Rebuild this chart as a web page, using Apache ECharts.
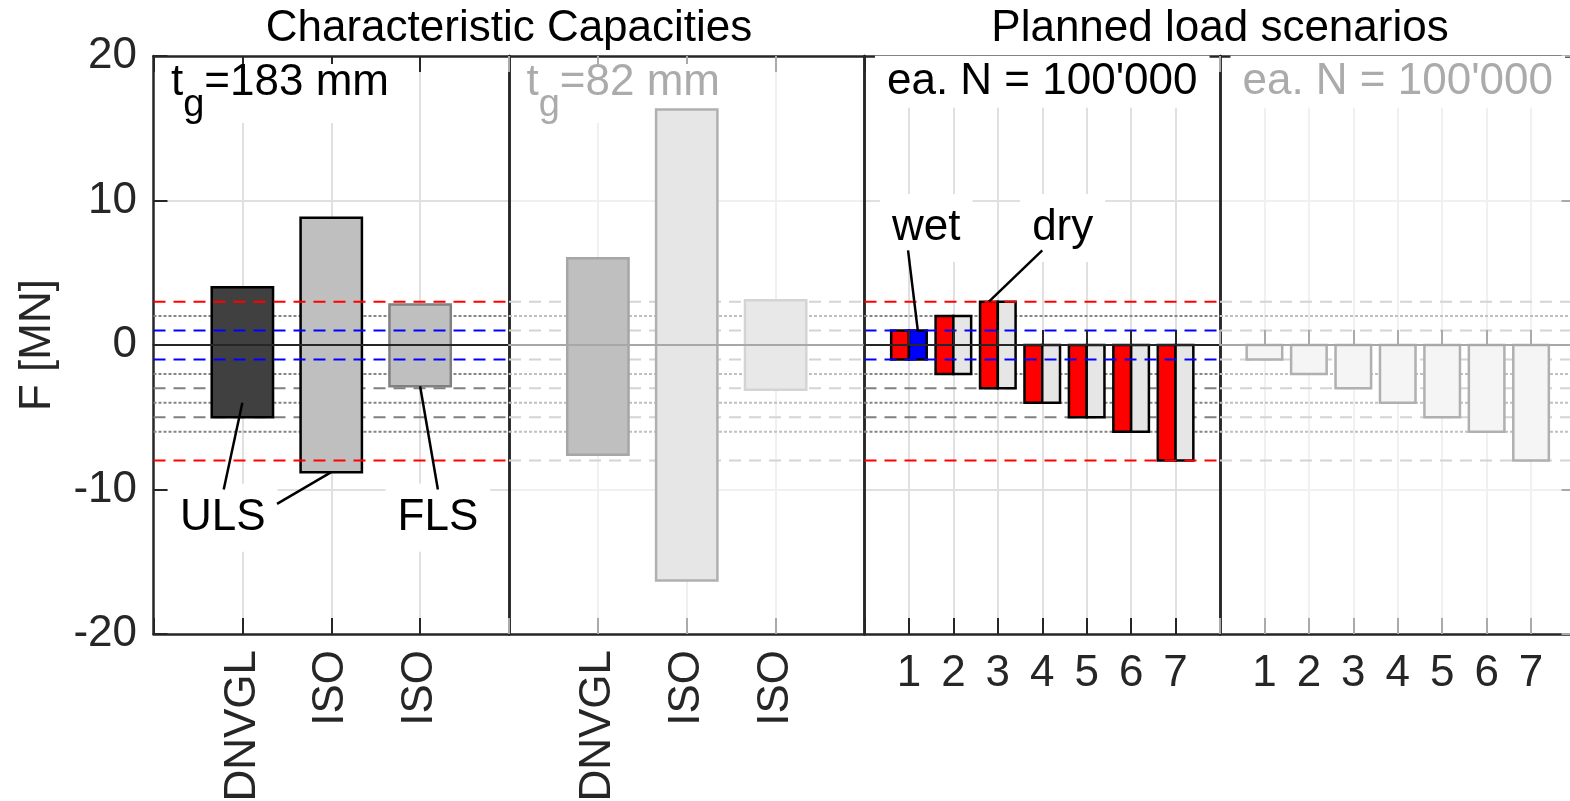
<!DOCTYPE html>
<html>
<head>
<meta charset="utf-8">
<title>Characteristic capacities and planned load scenarios</title>
<script src="https://cdn.jsdelivr.net/npm/echarts@6.0.0/dist/echarts.min.js"></script>
<style>
  html, body { margin: 0; padding: 0; background: #fff; }
  #chart { width: 1570px; height: 801px; }
</style>
</head>
<body>
<div id="chart"></div>
<script>
// ---- values ----
const capCategories = ['DNVGL', 'ISO', 'ISO'];
// t_g = 183 mm
const cap183Low  = [-5, -8.8, -2.85];
const cap183High = [4, 8.8, 2.8];
// t_g = 82 mm
const cap82Low  = [-7.6, -16.3, -3.1];
const cap82High = [6, 16.3, 3.1];

const scenarios = ['1', '2', '3', '4', '5', '6', '7'];
const wetLow  = [-1, -2, -3, -4, -5, -6, -8];
const wetHigh = [1, 2, 3, 0, 0, 0, 0];
const dryLow  = [-1, -2, -3, -4, -5, -6, -8];
const dryHigh = [1, 2, 3, 0, 0, 0, 0];
const load82Low  = [-1, -2, -3, -4, -5, -6, -8];
const load82High = [0, 0, 0, 0, 0, 0, 0];

const yMin = -20, yMax = 20, yStep = 10;

// horizontal reference levels [MN]
const limitLevels   = [3, -8];
const serviceLevels = [1, -1];
const dottedLevels  = [2, -2, -4, -6];
const dashedLevels  = [-3, -5];

// annotations (data coordinates)
const capNotes = ['ULS', 'FLS'];
const capNoteX = [0.78, 3.2];
const capNoteY = [-11.95, -11.95];
const capLeaders = [[1, -4, 0.79, -10], [2, -8.8, 1.39, -11], [3, -2.85, 3.2, -10]];
const loadNotes = ['wet', 'dry'];
const loadNoteX = [1.39, 4.46];
const loadNoteY = [8.1, 8.1];
const loadLeaders = [[1.2, 1, 0.98, 6.55], [2.8, 3, 4.0, 6.55]];

// ---- chart ----
const chart = echarts.init(document.getElementById('chart'));

const FONT = '"Liberation Sans", Arial, Helvetica, sans-serif';
const DARK = '#262626';
const FADE = '#ababab';
const panelLeft = [153.5, 509, 864.5, 1220];
const panelW = 355.5, panelTop = 56, panelH = 578;
const faded = [false, true, false, true];
const xMax = [4, 4, 8, 8];

const grid = panelLeft.map(l => ({
  left: l, top: panelTop, width: panelW, height: panelH,
  containLabel: false, outerBoundsMode: 'none'
}));

const xAxis = [], yAxis = [];
for (let i = 0; i < 4; i++) {
  const cats = i < 2 ? capCategories : scenarios;
  const tickColor = faded[i] ? '#aaaaaa' : DARK;
  const gridColor = faded[i] ? '#f0f0f0' : '#e0e0e0';
  const base = { type: 'value', gridIndex: i, min: 0, max: xMax[i], interval: 1 };

  // bottom border + labels
  xAxis.push(Object.assign({}, base, {
    position: 'bottom',
    axisLine: { show: true, onZero: false, lineStyle: { color: DARK, width: 2.5 } },
    axisTick: { show: true, inside: true, length: 16, lineStyle: { color: tickColor, width: 2 } },
    axisLabel: {
      show: true, margin: i < 2 ? 16 : 18, rotate: i < 2 ? 90 : 0,
      fontSize: 44, fontFamily: FONT, color: DARK,
      formatter: v => cats[v - 1] || ''
    },
    splitLine: { show: true, showMinLine: false, showMaxLine: false, lineStyle: { color: gridColor, width: 2 } }
  }));
  // top border
  xAxis.push(Object.assign({}, base, {
    position: 'top',
    axisLine: { show: true, onZero: false, lineStyle: { color: DARK, width: 2.5 } },
    axisTick: { show: true, inside: true, length: 16, lineStyle: { color: tickColor, width: 2 } },
    axisLabel: { show: false },
    splitLine: { show: false }
  }));
  // zero line
  xAxis.push(Object.assign({}, base, {
    position: 'bottom', z: 4,
    axisLine: { show: true, onZero: true, lineStyle: { color: faded[i] ? '#a8a8a8' : DARK, width: 2 } },
    axisTick: { show: i >= 2, inside: true, length: 15, lineStyle: { color: tickColor, width: 2 } },
    axisLabel: { show: false },
    splitLine: { show: false }
  }));

  yAxis.push({
    type: 'value', gridIndex: i, min: yMin, max: yMax, interval: yStep, position: 'left',
    axisLine: { show: true, onZero: false, lineStyle: { color: DARK, width: 2.5 } },
    axisTick: { show: i === 0, inside: true, length: 14, lineStyle: { color: DARK, width: 2 } },
    axisLabel: { show: i === 0, margin: 16.5, fontSize: 44, fontFamily: FONT, color: DARK },
    splitLine: { show: true, showMinLine: false, showMaxLine: false, lineStyle: { color: gridColor, width: 2 } },
    name: i === 0 ? 'F [MN]' : '',
    nameLocation: 'middle', nameGap: 94,
    nameTextStyle: { fontSize: 44, fontFamily: FONT, color: DARK }
  });
  yAxis.push({
    type: 'value', gridIndex: i, min: yMin, max: yMax, interval: yStep, position: 'right',
    axisLine: { show: true, onZero: false, lineStyle: { color: DARK, width: 2.5 } },
    axisTick: { show: i === 3, inside: true, length: 14, lineStyle: { color: '#aaaaaa', width: 2 } },
    axisLabel: { show: false },
    splitLine: { show: false }
  });
}

// floating bars from low to high, centred on category + offset
function rangeBars(gi, low, high, offset, width, fill, stroke, z) {
  return {
    type: 'custom', xAxisIndex: gi * 3, yAxisIndex: gi * 2, z: z, silent: true,
    data: low.map((lo, k) => [k + 1, lo, high[k]]),
    renderItem(params, api) {
      const x = api.value(0);
      const a = api.coord([x + offset - width / 2, api.value(2)]);
      const b = api.coord([x + offset + width / 2, api.value(1)]);
      return {
        type: 'rect',
        shape: { x: a[0], y: a[1], width: b[0] - a[0], height: b[1] - a[1] },
        style: { fill: fill(params.dataIndex), stroke: stroke(params.dataIndex), lineWidth: 2.5 }
      };
    }
  };
}

function levelLines(gi, levels, color, dash, z) {
  return {
    type: 'custom', xAxisIndex: gi * 3, yAxisIndex: gi * 2, z: z, silent: true,
    data: levels.map(v => [0, v]),
    renderItem(params, api) {
      const y = api.coord([0, api.value(1)])[1];
      const cs = params.coordSys;
      return {
        type: 'line',
        shape: { x1: cs.x, y1: y, x2: cs.x + cs.width, y2: y },
        style: { stroke: color, lineWidth: 2, lineDash: dash, fill: null }
      };
    }
  };
}

function notes(gi, names, xs, ys) {
  return {
    type: 'custom', xAxisIndex: gi * 3, yAxisIndex: gi * 2, z: 1.5, silent: true,
    data: xs.map((x, k) => [x, ys[k]]),
    renderItem(params, api) {
      const p = api.coord([api.value(0), api.value(1)]);
      return {
        type: 'text', x: p[0], y: p[1],
        style: {
          text: names[params.dataIndex], fontSize: 44, fontFamily: FONT, fill: '#000',
          textAlign: 'center', textVerticalAlign: 'middle', align: 'center', verticalAlign: 'middle',
          backgroundColor: '#fff', padding: [12, 12]
        }
      };
    }
  };
}

function leaders(gi, segs) {
  return {
    type: 'custom', xAxisIndex: gi * 3, yAxisIndex: gi * 2, z: 3, silent: true,
    data: segs,
    renderItem(params, api) {
      const a = api.coord([api.value(0), api.value(1)]);
      const b = api.coord([api.value(2), api.value(3)]);
      return {
        type: 'line',
        shape: { x1: a[0], y1: a[1], x2: b[0], y2: b[1] },
        style: { stroke: '#000', lineWidth: 2.5, fill: null }
      };
    }
  };
}

const DASH = [12, 8], DOT = [3, 2];
const series = [];
for (let i = 0; i < 4; i++) {
  if (faded[i]) {
    series.push(levelLines(i, limitLevels, '#d4d4d4', DASH, 1));
    series.push(levelLines(i, serviceLevels, '#d4d4d4', DASH, 1));
    series.push(levelLines(i, dashedLevels, '#d4d4d4', DASH, 1));
    series.push(levelLines(i, dottedLevels, '#c0c0c0', DOT, 1));
  } else {
    series.push(levelLines(i, dashedLevels, '#808080', DASH, 1));
    series.push(levelLines(i, dottedLevels, '#858585', DOT, 1));
    series.push(levelLines(i, limitLevels, '#ff0000', DASH, 3));
    series.push(levelLines(i, serviceLevels, '#0000ff', DASH, 3));
  }
}

const cap183Fill = ['#404040', '#bfbfbf', '#bfbfbf'];
const cap183Edge = ['#000000', '#000000', '#808080'];
const cap82Fill = ['#bfbfbf', '#e6e6e6', '#e8e8e8'];
const cap82Edge = ['#a6a6a6', '#b0b0b0', '#d4d4d4'];

series.push(rangeBars(0, cap183Low, cap183High, 0, 0.69, k => cap183Fill[k], k => cap183Edge[k], 2));
series.push(rangeBars(1, cap82Low, cap82High, 0, 0.69, k => cap82Fill[k], k => cap82Edge[k], 2));
series.push(rangeBars(2, wetLow, wetHigh, -0.2, 0.4, () => '#ff0000', () => '#000000', 2));
series.push(rangeBars(2, dryLow, dryHigh, 0.2, 0.4, k => (k === 0 ? '#0000ff' : '#e6e6e6'), () => '#000000', 2));
series.push(rangeBars(3, load82Low, load82High, 0, 0.8, () => '#f5f5f5', () => '#b0b0b0', 2));

series.push(notes(0, capNotes, capNoteX, capNoteY));
series.push(notes(2, loadNotes, loadNoteX, loadNoteY));
series.push(leaders(0, capLeaders));
series.push(leaders(2, loadLeaders));

function txt(x, y, text, color, size, align, extra) {
  return Object.assign({
    type: 'text', x: x, y: y, z: 1.6, silent: true,
    style: Object.assign({
      text: text, fontSize: size, fontFamily: FONT, fill: color,
      textAlign: align, textVerticalAlign: 'middle', align: align, verticalAlign: 'middle'
    }, extra || {})
  });
}

function thickness(offset, value, color) {
  return [
    { type: 'rect', z: 1.5, silent: true, shape: { x: 162 + offset, y: 64, width: 238, height: 59 }, style: { fill: '#fff' } },
    txt(171 + offset, 83, 't', color, 44, 'left'),
    txt(183.2 + offset, 106, 'g', color, 38, 'left'),
    txt(204.3 + offset, 83, '=' + value + ' mm', color, 44, 'left')
  ];
}

const graphic = [
  txt(509, 29, 'Characteristic Capacities', '#000', 44, 'center'),
  txt(1220, 29, 'Planned load scenarios', '#000', 44, 'center'),
  ...thickness(0, 183, '#000'),
  ...thickness(355.5, 82, FADE),
  txt(1042.25, 81.75, "ea. N = 100'000", '#000', 44, 'center', { backgroundColor: '#fff', padding: [0, 12, 8, 12] }),
  txt(1397.75, 81.75, "ea. N = 100'000", FADE, 44, 'center', { backgroundColor: '#fff', padding: [0, 12, 8, 12] })
];

chart.setOption({
  animation: false,
  backgroundColor: '#fff',
  grid: grid,
  xAxis: xAxis,
  yAxis: yAxis,
  series: series,
  graphic: graphic
});
</script>
</body>
</html>
